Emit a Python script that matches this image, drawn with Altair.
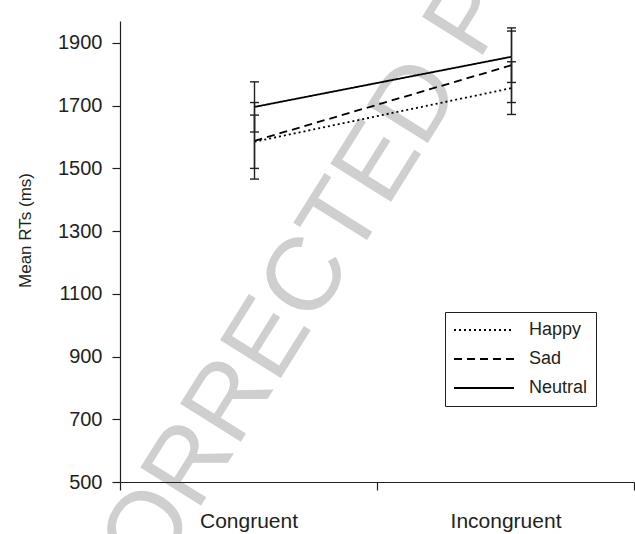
import altair as alt
import pandas as pd

# ---- data ----
conditions = ["Congruent", "Incongruent"]
emotions = ["Happy", "Sad", "Neutral"]
happy_mean = [1585, 1756]
sad_mean = [1588, 1829]
neutral_mean = [1696, 1856]
happy_err = [85, 84]
sad_err = [122, 119]
neutral_err = [80, 82]
y_ticks = [500, 700, 900, 1100, 1300, 1500, 1700, 1900]
watermark = ["UNCORRECTED PROOF"]

rows = []
for emo, means, errs in zip(emotions,
                            [happy_mean, sad_mean, neutral_mean],
                            [happy_err, sad_err, neutral_err]):
    for c, m, e in zip(conditions, means, errs):
        rows.append({"condition": c, "emotion": emo, "mean": m,
                     "lo": m - e, "hi": m + e})
df = pd.DataFrame(rows)

FONT = "Liberation Sans"
TEXT = "#231f20"
YTITLE = "Mean RTs (ms)"

x_enc = alt.X(
    "condition:N", sort=conditions,
    scale=alt.Scale(type="band", paddingInner=0, paddingOuter=0),
    axis=alt.Axis(title=None, tickBand="extent", tickSize=8, labelAngle=0,
                  labelFontSize=21, labelPadding=20, labelFont=FONT,
                  labelColor=TEXT, domainColor=TEXT, tickColor=TEXT,
                  domainWidth=1.2, tickWidth=1.2, zindex=1),
)
y_scale = alt.Scale(domain=[500, 1970], nice=False, zero=False)
y_axis = alt.Axis(values=y_ticks, format="d", tickSize=8, labelPadding=10,
                  labelFontSize=20, labelFont=FONT, labelColor=TEXT,
                  domainColor=TEXT, tickColor=TEXT, domainWidth=1.2,
                  tickWidth=1.2, grid=False, title=YTITLE,
                  titleFont=FONT, titleFontSize=17, titleFontWeight="normal",
                  titleColor=TEXT, titleX=-86, titleY=209, zindex=1)

base = alt.Chart(df)

wm = alt.Chart(pd.DataFrame({"t": watermark})).mark_text(
    angle=302, fontSize=104, font=FONT, color="#cfcfcf",
    align="left", baseline="middle",
).encode(text="t:N", x=alt.value(-112), y=alt.value(735))

lines = base.mark_line(strokeWidth=1.8, color="black", xOffset=6).encode(
    x=x_enc,
    y=alt.Y("mean:Q", scale=y_scale, axis=y_axis),
    strokeDash=alt.StrokeDash(
        "emotion:N", sort=emotions,
        scale=alt.Scale(domain=emotions, range=[[2, 3], [8, 5], [1, 0]]),
        legend=alt.Legend(title=None, orient="none", legendX=325, legendY=291,
                          symbolType="stroke", symbolSize=3600,
                          symbolStrokeWidth=1.8, symbolStrokeColor="black",
                          labelFontSize=18, labelFont=FONT, labelColor=TEXT,
                          labelOffset=14, clipHeight=20, rowPadding=9,
                          padding=8, strokeColor=TEXT, fillColor="white"),
    ),
)

ERR = "#222222"
rules = base.mark_rule(strokeWidth=1.4, color=ERR, xOffset=6).encode(
    x=x_enc,
    y=alt.Y("lo:Q", scale=y_scale, axis=y_axis),
    y2="hi:Q",
)
caps_hi = base.mark_tick(size=9, thickness=1.4, color=ERR, opacity=1,
                         xOffset=6, orient="horizontal").encode(
    x=x_enc, y=alt.Y("hi:Q", scale=y_scale, axis=y_axis))
caps_lo = base.mark_tick(size=9, thickness=1.4, color=ERR, opacity=1,
                         xOffset=6, orient="horizontal").encode(
    x=x_enc, y=alt.Y("lo:Q", scale=y_scale, axis=y_axis))

chart = alt.layer(wm, lines, rules, caps_hi, caps_lo).properties(
    width=514, height=461,
    padding={"left": 120, "top": 21, "right": 1, "bottom": 52},
    autosize=alt.AutoSizeParams(type="none"),
    background="white",
).configure_view(stroke=None).configure_axisY(
    titleFontSize=17, titleFont=FONT, titleFontWeight="normal", titleColor=TEXT
)

chart.save("out.html", embed_options={"renderer": "svg", "actions": False})
